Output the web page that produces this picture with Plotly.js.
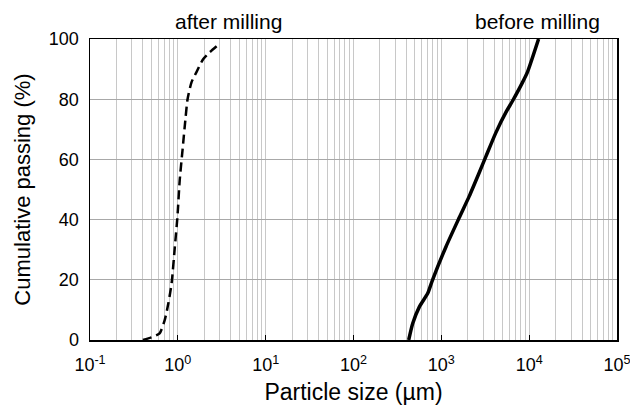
<!DOCTYPE html>
<html>
<head>
<meta charset="utf-8">
<script src="https://cdn.plot.ly/plotly-3.0.1.min.js"></script>
<style>html,body{margin:0;padding:0;background:#fff;}#chart{width:630px;height:405px;}</style>
</head>
<body>
<div id="chart"></div>
<script>
// After milling (dashed)
const afterSize = [0.40, 0.50, 0.62, 0.71, 0.78, 0.85, 0.925, 0.99, 1.05, 1.13, 1.23, 1.29, 1.43, 1.63, 1.94, 2.31, 2.95];
const afterPass = [0, 0.9, 2.2, 6.7, 12.2, 18.9, 31, 41, 53, 63, 74.4, 80, 85.6, 89, 93.3, 95.6, 98.3];
// Before milling (solid)
const beforeSize = [425, 472, 562, 700, 795, 1130, 1590, 2080, 2690, 3220, 4180, 5430, 6460, 8400, 9560, 12800];
const beforePass = [0, 5.5, 11, 15.5, 20, 31, 40.5, 47.8, 55.5, 61, 68.9, 75.6, 79.4, 85.6, 89, 100];

const xTickVals = [0.1, 1, 10, 100, 1000, 10000, 100000];
const xTickText = ['10<sup>-1</sup>', '10<sup>0</sup>', '10<sup>1</sup>', '10<sup>2</sup>', '10<sup>3</sup>', '10<sup>4</sup>', '10<sup>5</sup>'];
const yTickVals = [0, 20, 40, 60, 80, 100];

const font = 'Liberation Sans, Arial, sans-serif';

const traces = [
  {x: afterSize, y: afterPass, mode: 'lines', type: 'scatter', line: {color: '#000', width: 2.5, dash: '9px,5px', shape: 'spline', smoothing: 0.6}, hoverinfo: 'skip'},
  {x: beforeSize, y: beforePass, mode: 'lines', type: 'scatter', line: {color: '#000', width: 3.5, shape: 'spline', smoothing: 0.6}, hoverinfo: 'skip'}
];

const layout = {
  width: 630, height: 405,
  margin: {l: 90, r: 13, t: 39, b: 65},
  paper_bgcolor: '#fff', plot_bgcolor: '#fff',
  showlegend: false,
  font: {family: font, size: 18, color: '#000'},
  xaxis: {
    type: 'log', range: [-1, 5],
    tickvals: xTickVals, ticktext: xTickText,
    ticks: 'inside', ticklen: 5, tickcolor: '#000', tickwidth: 1,
    ticklabeloverflow: 'allow',
    ticklabelstandoff: 8,
    showgrid: true, gridcolor: '#c8c8c8', gridwidth: 1,
    minor: {dtick: 'D1', showgrid: true, gridcolor: '#c8c8c8', gridwidth: 1, ticks: ''},
    showline: true, linecolor: '#000', linewidth: 1.5, mirror: true,
    zeroline: false,
    tickfont: {family: font, size: 18, color: '#000'},
    title: {text: 'Particle size (µm)', font: {family: font, size: 23, color: '#000'}, standoff: 16}
  },
  yaxis: {
    range: [0, 100], tickvals: yTickVals,
    ticks: '', showgrid: true, gridcolor: '#a8a8a8', gridwidth: 1,
    showline: true, linecolor: '#000', linewidth: 1.5, mirror: true,
    zeroline: false,
    ticklabelstandoff: 6,
    tickfont: {family: font, size: 18, color: '#000'},
    title: {text: 'Cumulative passing (%)', font: {family: font, size: 22, color: '#000'}, standoff: 12}
  },
  annotations: [
    {text: 'after milling', xref: 'paper', yref: 'paper', x: 0.262, xanchor: 'center', y: 1, yanchor: 'bottom', yshift: 4, showarrow: false, font: {family: font, size: 21, color: '#000'}},
    {text: 'before milling', xref: 'paper', yref: 'paper', x: 0.85, xanchor: 'center', y: 1, yanchor: 'bottom', yshift: 4, showarrow: false, font: {family: font, size: 21, color: '#000'}}
  ]
};

Plotly.newPlot('chart', traces, layout, {staticPlot: true, displayModeBar: false});
</script>
</body>
</html>
